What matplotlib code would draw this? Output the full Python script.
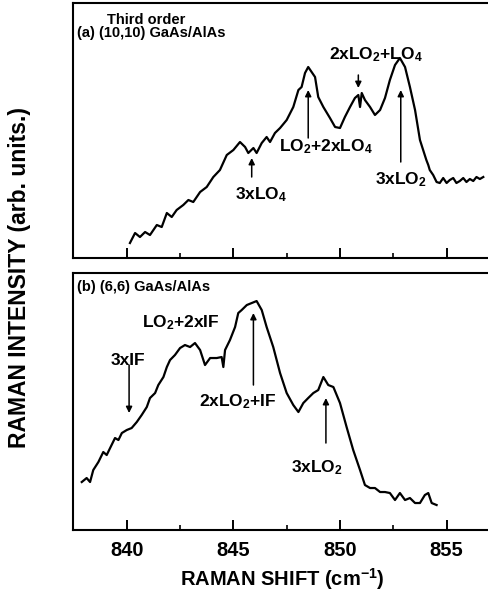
import matplotlib
matplotlib.use("Agg")
import matplotlib.pyplot as plt
from matplotlib.ticker import MultipleLocator

plt.rcParams['font.family'] = ['Liberation Sans', 'DejaVu Sans']
plt.rcParams['font.weight'] = 'bold'
plt.rcParams['axes.labelweight'] = 'bold'
plt.rcParams['mathtext.fontset'] = 'custom'
plt.rcParams['mathtext.rm'] = 'Liberation Sans:bold'
plt.rcParams['mathtext.bf'] = 'Liberation Sans:bold'
plt.rcParams['mathtext.default'] = 'bf'

# =========================
# DATA
# =========================
# (a) (10,10) GaAs/AlAs
shift_a = [840.15, 840.39, 840.62, 840.86, 841.09, 841.41, 841.64, 841.88, 842.11, 842.34,
           842.65, 842.89, 843.12, 843.44, 843.75, 844.06, 844.37, 844.69, 845.00, 845.31,
           845.55, 845.70, 845.94, 846.09, 846.33, 846.56, 846.72, 846.95, 847.19, 847.50,
           847.81, 848.05, 848.20, 848.36, 848.51, 848.67, 848.83, 848.98, 849.22, 849.53,
           849.77, 850.00, 850.23, 850.47, 850.70, 850.86, 850.94, 851.02, 851.17, 851.41,
           851.64, 851.88, 852.11, 852.34, 852.58, 852.81, 853.05, 853.28, 853.52, 853.75,
           853.90, 854.05, 854.14, 854.21, 854.37, 854.53, 854.68, 854.84, 855.00, 855.15,
           855.31, 855.46, 855.62, 855.78, 855.93, 856.09, 856.25, 856.40, 856.56, 856.72]
inten_a = [0.15, 0.25, 0.21, 0.26, 0.23, 0.33, 0.31, 0.45, 0.41, 0.48,
           0.53, 0.58, 0.56, 0.66, 0.71, 0.81, 0.88, 1.03, 1.08, 1.16,
           1.11, 1.05, 1.10, 1.05, 1.15, 1.21, 1.16, 1.25, 1.30, 1.38,
           1.51, 1.68, 1.71, 1.85, 1.91, 1.86, 1.81, 1.61, 1.51, 1.40,
           1.31, 1.30, 1.41, 1.51, 1.60, 1.63, 1.51, 1.65, 1.58, 1.51,
           1.43, 1.48, 1.60, 1.78, 1.93, 2.00, 1.91, 1.71, 1.48, 1.18,
           1.08, 0.98, 0.93, 0.88, 0.83, 0.76, 0.75, 0.80, 0.75, 0.78,
           0.80, 0.75, 0.77, 0.80, 0.76, 0.79, 0.77, 0.81, 0.79, 0.81]

# (b) (6,6) GaAs/AlAs
shift_b = [837.89, 838.12, 838.28, 838.43, 838.67, 838.90, 839.06, 839.22, 839.45, 839.61,
           839.77, 840.00, 840.23, 840.47, 840.70, 840.94, 841.09, 841.33, 841.48, 841.72,
           841.88, 842.03, 842.26, 842.50, 842.73, 842.97, 843.20, 843.44, 843.67, 843.91,
           844.22, 844.45, 844.53, 844.61, 844.84, 845.08, 845.23, 845.39, 845.63, 845.86,
           846.09, 846.33, 846.56, 846.87, 847.19, 847.50, 847.81, 848.05, 848.28, 848.51,
           848.75, 848.98, 849.22, 849.45, 849.69, 850.00, 850.31, 850.62, 850.94, 851.17,
           851.41, 851.64, 851.88, 852.11, 852.34, 852.58, 852.81, 853.05, 853.28, 853.52,
           853.75, 853.98, 854.14, 854.30, 854.53]
inten_b = [0.48, 0.52, 0.48, 0.60, 0.68, 0.78, 0.75, 0.82, 0.92, 0.90,
           0.97, 1.00, 1.02, 1.08, 1.15, 1.23, 1.32, 1.37, 1.45, 1.53,
           1.63, 1.70, 1.75, 1.82, 1.85, 1.83, 1.87, 1.80, 1.65, 1.72,
           1.72, 1.73, 1.63, 1.80, 1.90, 2.03, 2.17, 2.20, 2.25, 2.27,
           2.29, 2.20, 2.03, 1.83, 1.57, 1.37, 1.25, 1.18, 1.27, 1.32,
           1.37, 1.40, 1.53, 1.45, 1.43, 1.27, 1.03, 0.80, 0.60, 0.45,
           0.42, 0.42, 0.38, 0.38, 0.37, 0.30, 0.37, 0.30, 0.32, 0.27,
           0.27, 0.35, 0.37, 0.27, 0.25]

xticks = [840, 845, 850, 855]

# =========================
# FIGURE
# =========================
fig = plt.figure(figsize=(4.89, 6.01), dpi=100)
ax_a = fig.add_axes([0.1493, 0.5707, 0.8569, 0.4243])
ax_b = fig.add_axes([0.1493, 0.1181, 0.8569, 0.4276])

for ax in (ax_a, ax_b):
    ax.set_xlim(837.48, 857.13)
    ax.set_xticks(xticks)
    ax.xaxis.set_minor_locator(MultipleLocator(2.5))
    ax.tick_params(axis='x', which='major', direction='in', length=7, width=1.4,
                   labelsize=14.5, pad=8)
    ax.tick_params(axis='x', which='minor', direction='in', length=3.5, width=1.2)
    ax.set_yticks([])
    ax.spines['right'].set_visible(False)
    for s in ('left', 'top', 'bottom'):
        ax.spines[s].set_linewidth(1.5)

ax_a.set_ylim(0, 2.55)
ax_b.set_ylim(0, 2.57)
ax_a.tick_params(axis='x', labelbottom=False)

ax_a.plot(shift_a, inten_a, color='black', lw=1.6)
ax_b.plot(shift_b, inten_b, color='black', lw=1.6)

arrow = dict(arrowstyle='-|>', color='black', lw=1.1, mutation_scale=9,
             shrinkA=0, shrinkB=0)
big = 12.5
small = 10.5

# panel (a)
ax_a.text(839.08, 2.38, "Third order", fontsize=small, ha='left', va='center')
ax_a.text(837.67, 2.25, "(a) (10,10) GaAs/AlAs", fontsize=small, ha='left', va='center')
ax_a.text(851.69, 2.03, "2xLO$_2$+LO$_4$", fontsize=big, ha='center', va='center')
ax_a.annotate("", xy=(850.86, 1.70), xytext=(850.86, 1.83), arrowprops=arrow)
ax_a.text(849.32, 1.11, "LO$_2$+2xLO$_4$", fontsize=big, ha='center', va='center')
ax_a.annotate("", xy=(848.51, 1.68), xytext=(848.51, 1.20), arrowprops=arrow)
ax_a.text(846.30, 0.63, "3xLO$_4$", fontsize=big, ha='center', va='center')
ax_a.annotate("", xy=(845.86, 1.00), xytext=(845.86, 0.81), arrowprops=arrow)
ax_a.text(852.86, 0.78, "3xLO$_2$", fontsize=big, ha='center', va='center')
ax_a.annotate("", xy=(852.85, 1.68), xytext=(852.85, 0.96), arrowprops=arrow)

# panel (b)
ax_b.text(837.67, 2.43, "(b) (6,6) GaAs/AlAs", fontsize=small, ha='left', va='center')
ax_b.text(842.52, 2.07, "LO$_2$+2xIF", fontsize=big, ha='center', va='center')
ax_b.text(840.08, 1.70, "3xIF", fontsize=big, ha='center', va='center')
ax_b.annotate("", xy=(840.11, 1.17), xytext=(840.11, 1.65), arrowprops=arrow)
ax_b.text(845.22, 1.28, "2xLO$_2$+IF", fontsize=big, ha='center', va='center')
ax_b.annotate("", xy=(845.94, 2.17), xytext=(845.94, 1.45), arrowprops=arrow)
ax_b.text(848.90, 0.62, "3xLO$_2$", fontsize=big, ha='center', va='center')
ax_b.annotate("", xy=(849.34, 1.32), xytext=(849.34, 0.87), arrowprops=arrow)

ax_b.set_xlabel("RAMAN SHIFT (cm$^{-1}$)", fontsize=14.5, labelpad=4)
fig.text(0.039, 0.539, "RAMAN INTENSITY (arb. units.)", rotation=90, fontsize=16.5,
         ha='center', va='center')

fig.savefig("out.png", dpi=100)
